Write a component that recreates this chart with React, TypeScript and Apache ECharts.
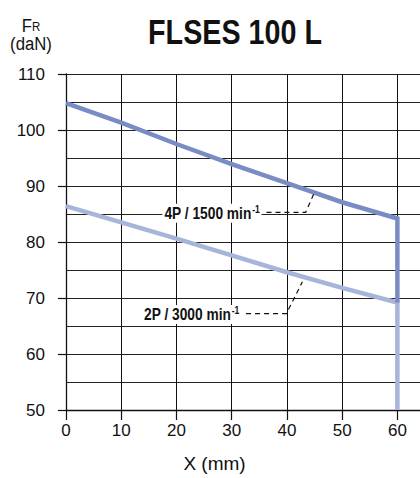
import React, { useEffect, useRef } from "react";
import * as echarts from "echarts";

// ---- data ----
const xTickLabels = [0, 10, 20, 30, 40, 50, 60];
const yTickLabels = [50, 60, 70, 80, 90, 100, 110];

const x4P = [0, 10, 20, 30, 40, 50, 60, 60];
const y4P = [104.8, 101.3, 97.5, 93.9, 90.5, 87.1, 84.2, 69.2];
const x2P = [0, 10, 20, 30, 40, 50, 60, 60];
const y2P = [86.4, 83.5, 80.6, 77.6, 74.6, 71.8, 69.2, 50];

const seriesLabels = ["4P / 1500 min", "2P / 3000 min"];
const labelAnchors = [
  [35.4, 85.15],
  [31.7, 67.05],
];
const leader4P = [
  [36.3, 85.3],
  [43.4, 85.3],
  [45.0, 88.9],
];
const leader2P = [
  [32.6, 67.2],
  [39.9, 67.2],
  [42.8, 72.9],
];

const FONT = "'Liberation Sans', Arial, Helvetica, sans-serif";

export default function App() {
  const ref = useRef<HTMLDivElement>(null);

  useEffect(() => {
    document.body.style.margin = "0";
    if (!ref.current) return;
    const chart = echarts.init(ref.current, undefined, { renderer: "svg" });

    const data4P = x4P.map((x, i) => [x, y4P[i]]);
    const data2P = x2P.map((x, i) => [x, y2P[i]]);

    chart.setOption({
      animation: false,
      backgroundColor: "#ffffff",
      grid: { left: 66, top: 74, bottom: 66, right: 0, containLabel: false },
      xAxis: {
        type: "value",
        min: 0,
        max: 65,
        interval: 10,
        axisLine: { show: true, lineStyle: { color: "#111", width: 1.3 } },
        axisTick: { show: true, length: 10, lineStyle: { color: "#111", width: 1.2 } },
        axisLabel: {
          color: "#111",
          fontSize: 17,
          fontFamily: FONT,
          margin: 12,
          formatter: (v: number) => (xTickLabels.includes(v) ? String(v) : ""),
        },
        splitLine: { show: true, lineStyle: { color: "#111", width: 1 } },
        name: "X (mm)",
        nameLocation: "middle",
        nameGap: 44,
        nameTextStyle: {
          color: "#111",
          fontSize: 19,
          fontFamily: FONT,
          padding: [0, 62, 0, 0],
        },
      },
      yAxis: {
        type: "value",
        min: 50,
        max: 110,
        interval: 10,
        axisLine: { show: true, lineStyle: { color: "#111", width: 1.3 } },
        axisTick: { show: true, length: 8, lineStyle: { color: "#111", width: 1.2 } },
        axisLabel: {
          color: "#111",
          fontSize: 17,
          fontFamily: FONT,
          margin: 21,
          formatter: (v: number) => (yTickLabels.includes(v) ? String(v) : ""),
        },
        splitLine: { show: true, lineStyle: { color: "#222", width: 1 } },
        minorTick: { show: false, splitNumber: 2 },
        minorSplitLine: { show: true, lineStyle: { color: "#222", width: 1 } },
      },
      series: [
        {
          name: seriesLabels[1],
          type: "line",
          data: data2P,
          showSymbol: false,
          symbol: "none",
          lineStyle: { color: "#a8b5da", width: 4.5, join: "miter", cap: "butt" },
          z: 3,
        },
        {
          name: seriesLabels[0],
          type: "line",
          data: data4P,
          showSymbol: false,
          symbol: "none",
          lineStyle: { color: "#7a8cc4", width: 4.5, join: "miter", cap: "butt" },
          z: 4,
        },
      ],
    });

    const px = (p: number[]) => chart.convertToPixel({ gridIndex: 0 }, p) as number[];
    const toPoints = (arr: number[][]) => arr.map((p) => px(p));

    const a4 = px(labelAnchors[0]);
    const a2 = px(labelAnchors[1]);

    const annotationText = (text: string, pos: number[]) => ({
      type: "text",
      x: pos[0],
      y: pos[1],
      scaleX: 0.86,
      z: 20,
      style: {
        text: `{t|${text}}{s|-1}`,
        align: "right",
        verticalAlign: "middle",
        backgroundColor: "#ffffff",
        padding: [1, 2, 1, 2],
        rich: {
          t: { fontSize: 16, fontWeight: "bold", fontFamily: FONT, fill: "#111" },
          s: { fontSize: 10, fontWeight: "bold", fontFamily: FONT, fill: "#111", padding: [0, 0, 7, 1] },
        },
      },
    });

    chart.setOption({
      graphic: [
        {
          type: "text",
          x: 235,
          y: 32,
          scaleX: 0.82,
          z: 20,
          style: {
            text: "FLSES 100 L",
            align: "center",
            verticalAlign: "middle",
            fontSize: 35,
            fontWeight: "bold",
            fontFamily: FONT,
            fill: "#111",
          },
        },
        {
          type: "text",
          x: 31,
          y: 35,
          scaleX: 0.88,
          z: 20,
          style: {
            text: "{f|F}{r|R}\n{d|(daN)}",
            align: "center",
            verticalAlign: "middle",
            rich: {
              f: { fontSize: 19, fontFamily: FONT, fill: "#111", lineHeight: 17 },
              r: { fontSize: 13, fontFamily: FONT, fill: "#111", lineHeight: 17, padding: [3, 0, 0, 0] },
              d: { fontSize: 19, fontFamily: FONT, fill: "#111", lineHeight: 19 },
            },
          },
        },
        {
          type: "polyline",
          z: 19,
          shape: { points: toPoints(leader4P) },
          style: { stroke: "#111", lineWidth: 1.2, lineDash: [5, 4], fill: null },
        },
        {
          type: "polyline",
          z: 19,
          shape: { points: toPoints(leader2P) },
          style: { stroke: "#111", lineWidth: 1.2, lineDash: [5, 4], fill: null },
        },
        annotationText(seriesLabels[0], a4),
        annotationText(seriesLabels[1], a2),
      ],
    });

    return () => chart.dispose();
  }, []);

  return (
    <div style={{ width: 420, height: 478, overflow: "hidden", position: "relative" }}>
      <div ref={ref} style={{ width: 428, height: 478 }} />
    </div>
  );
}
